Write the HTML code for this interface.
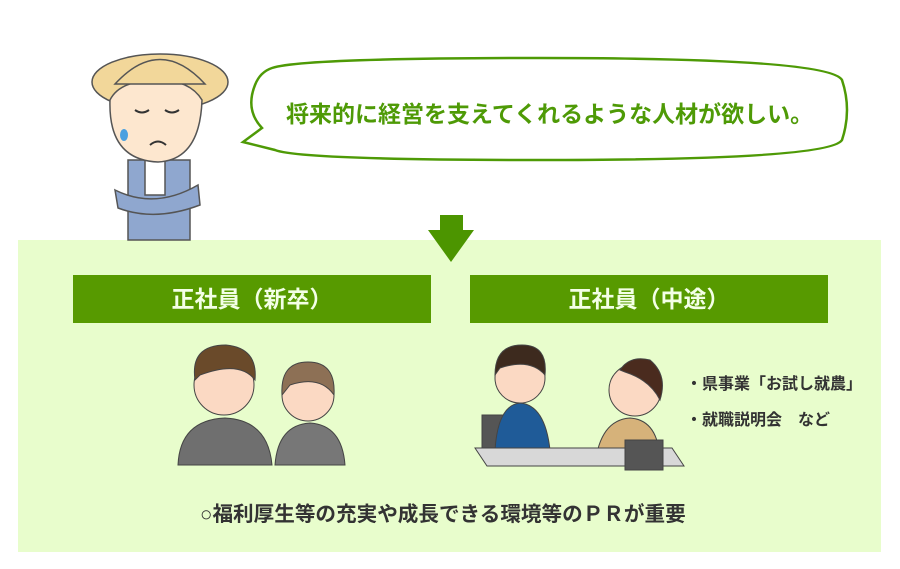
<!DOCTYPE html>
<html><head><meta charset="utf-8"><style>
body{margin:0;width:900px;height:569px;background:#fff;position:relative;overflow:hidden;font-family:"Liberation Sans","Noto Sans CJK JP",sans-serif}
.abs{position:absolute;white-space:nowrap}
.box{left:18px;top:240px;width:863px;height:312px;background:#e8fdcc}
.hdr{top:275px;height:48px;width:358px;background:#579a00;color:#f3ffe6;font-weight:bold;font-size:23px;line-height:48px;text-align:center}
.t{color:#333;font-weight:bold;font-size:16px}
</style></head><body>
<div class="abs box"></div>
<svg class="abs" style="left:0;top:0" width="900" height="569">
 <path d="M272,68 Q300,58 540,58 Q830,58 842,80 Q852,110 842,140 Q830,160 540,160 Q300,160 275,150 L243,142 L262,128 Q245,110 255,85 Q260,72 272,68Z" fill="#fff" stroke="#4e9a06" stroke-width="2.5"/>
 <path d="M440,215 H463 V230 H474 L451,262 L428,230 H440Z" fill="#4c9500"/>
 <g stroke="#555" stroke-width="1.5">
  <rect x="128" y="160" width="62" height="80" fill="#8fa7cf"/>
  <path d="M115,190 Q155,210 198,185 L200,205 Q155,222 118,208Z" fill="#8fa7cf"/>
  <rect x="145" y="160" width="20" height="35" fill="#fff"/>
  <ellipse cx="160" cy="82" rx="68" ry="28" fill="#f2d79a"/>
  <path d="M110,100 Q108,160 158,162 Q200,160 202,100 Q190,80 158,80 Q120,80 110,100Z" fill="#fde7cf"/>
  <path d="M115,84 Q160,35 205,84Z" fill="#f2d79a"/>
 </g>
 <path d="M135,110 Q142,115 149,110 M165,110 Q172,115 179,110 M150,145 Q158,138 166,145" stroke="#333" stroke-width="2" fill="none"/>
 <ellipse cx="124" cy="135" rx="4" ry="6" fill="#4aa0e0"/>
 <g stroke="#444" stroke-width="1">
  <path d="M178,465 Q180,420 225,418 Q268,420 272,465Z" fill="#6f6f6f"/>
  <circle cx="224" cy="385" r="30" fill="#fbd9c3"/>
  <path d="M195,380 Q190,345 226,345 Q258,348 255,380 Q240,360 200,375Z" fill="#6a4a2a"/>
  <path d="M275,465 Q278,425 310,423 Q342,425 345,465Z" fill="#777"/>
  <circle cx="308" cy="395" r="26" fill="#fbd9c3"/>
  <path d="M282,395 Q280,362 308,362 Q336,362 334,395 Q320,375 290,385Z" fill="#8d7055"/>
 </g>
 <g stroke="#444" stroke-width="1">
  <rect x="482" y="415" width="25" height="40" fill="#555"/>
  <path d="M495,450 Q498,405 520,403 Q545,405 550,450Z" fill="#1f5b98"/>
  <circle cx="520" cy="378" r="25" fill="#fbd9c3"/>
  <path d="M495,375 Q495,345 522,345 Q548,345 545,375 Q530,358 500,368Z" fill="#3d2a1e"/>
  <path d="M595,465 Q600,420 630,418 Q660,420 660,465Z" fill="#d6b27a"/>
  <circle cx="635" cy="390" r="26" fill="#fbd9c3"/>
  <path d="M620,370 Q630,355 650,360 Q668,375 660,400 Q650,380 625,372Z" fill="#4a2b1e"/>
  <path d="M475,448 H672 L684,466 H487Z" fill="#d8d8d8"/>
  <rect x="625" y="440" width="38" height="30" fill="#555"/>
 </g>
</svg>
<div class="abs" style="left:286px;top:95px;font-size:23px;font-weight:bold;color:#4e9a06">将来的に経営を支えてくれるような人材が欲しい。</div>
<div class="abs hdr" style="left:73px">正社員（新卒）</div>
<div class="abs hdr" style="left:470px">正社員（中途）</div>
<div class="abs t" style="left:686px;top:370px">・県事業「お試し就農」</div>
<div class="abs t" style="left:686px;top:406px">・就職説明会　など</div>
<div class="abs" style="left:200px;top:497px;font-size:20.6px;font-weight:bold;color:#333">○福利厚生等の充実や成長できる環境等のＰＲが重要</div>
</body></html>
